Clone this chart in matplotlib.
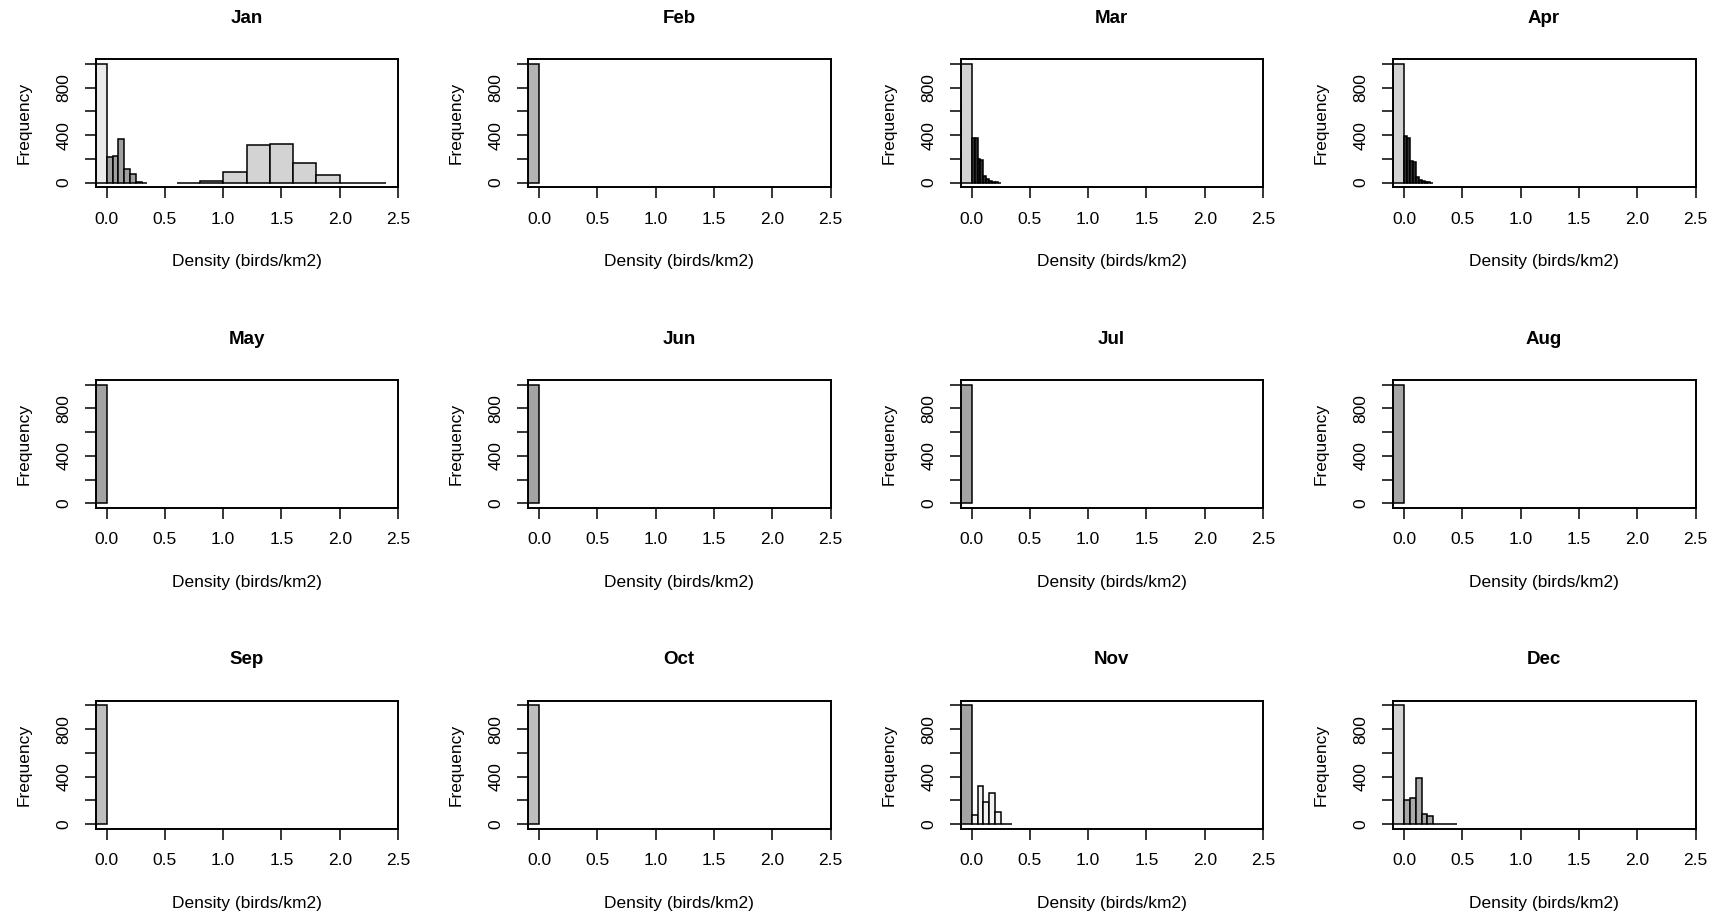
"""
monthly histograms of bird density (re-drawn from R base graphics)
"""
import matplotlib
matplotlib.use("Agg")
import matplotlib.pyplot as plt

plt.rcParams['font.family'] = ['Liberation Sans', 'DejaVu Sans']

months = ['Jan', 'Feb', 'Mar', 'Apr', 'May', 'Jun',
          'Jul', 'Aug', 'Sep', 'Oct', 'Nov', 'Dec']

# tall bar of zeros, one per month
zero_edges = [-0.1, 0.0]
zero_counts = [1000]
zero_colors = ['#EBEBEB', '#B3B3B3', '#D3D3D3', '#D3D3D3', '#A3A3A3', '#A3A3A3',
               '#A3A3A3', '#A6A6A6', '#BEBEBE', '#BEBEBE', '#A3A3A3', '#D3D3D3']

# extra layers: month -> list of (edges, counts, colour)
jan_low_edges = [0.0, 0.05, 0.1, 0.15, 0.2, 0.25, 0.3, 0.35]
jan_low_counts = [213, 225, 368, 112, 76, 5, 0]
jan_high_edges = [0.6, 0.8, 1.0, 1.2, 1.4, 1.6, 1.8, 2.0, 2.2, 2.4]
jan_high_counts = [0, 15, 90, 315, 323, 163, 65, 0, 0]

mar_edges = [0.0, 0.025, 0.05, 0.075, 0.1, 0.125, 0.15, 0.175, 0.2, 0.225, 0.25]
mar_counts = [380, 372, 197, 190, 56, 28, 12, 5, 2, 0]

apr_edges = [0.0, 0.025, 0.05, 0.075, 0.1, 0.125, 0.15, 0.175, 0.2, 0.225, 0.25]
apr_counts = [393, 380, 183, 175, 51, 22, 10, 4, 2, 0]

nov_edges = [0.0, 0.05, 0.1, 0.15, 0.2, 0.25, 0.3, 0.35]
nov_counts = [73, 323, 185, 264, 98, 0, 0]

dec_edges = [0.0, 0.05, 0.1, 0.15, 0.2, 0.25, 0.3, 0.35, 0.4, 0.45]
dec_counts = [205, 216, 388, 84, 65, 0, 0, 0, 0]

layers = {
    'Jan': [(jan_low_edges, jan_low_counts, '#A0A0A0'),
            (jan_high_edges, jan_high_counts, '#D3D3D3')],
    'Mar': [(mar_edges, mar_counts, '#303030')],
    'Apr': [(apr_edges, apr_counts, '#303030')],
    'Nov': [(nov_edges, nov_counts, '#F2F2F2')],
    'Dec': [(dec_edges, dec_counts, '#A9A9A9')],
}

x_ticks = [0.0, 0.5, 1.0, 1.5, 2.0, 2.5]
y_ticks = [0, 200, 400, 600, 800, 1000]
y_labels = ['0', '', '400', '', '800', '']

W, H = 1722, 916
fig = plt.figure(figsize=(W / 100, H / 100), dpi=100)


def draw_hist(ax, edges, counts, col):
    lefts = edges[:-1]
    widths = [b - a for a, b in zip(edges[:-1], edges[1:])]
    ax.bar(lefts, counts, width=widths, align='edge', color=col,
           edgecolor='black', linewidth=1.1)


for i, m in enumerate(months):
    r, c = divmod(i, 4)
    left = 95.5 + 432.5 * c
    top = 59.3 + 320.7 * r
    ax = fig.add_axes([left / W, 1 - (top + 128) / H, 302.5 / W, 128 / H])

    draw_hist(ax, zero_edges, zero_counts, zero_colors[i])
    for edges, counts, col in layers.get(m, []):
        draw_hist(ax, edges, counts, col)

    ax.set_xlim(-0.096, 2.496)
    ax.set_ylim(-40, 1040)
    ax.set_xticks(x_ticks)
    ax.set_xticklabels(['%.1f' % t for t in x_ticks], fontsize=12.5)
    ax.set_yticks(y_ticks)
    ax.set_yticklabels(y_labels, fontsize=12.5, rotation=90, va='center')
    ax.tick_params(length=8, width=1.1, pad=9.5)
    for s in ax.spines.values():
        s.set_linewidth(1.4)
    ax.set_xlabel('Density (birds/km2)', fontsize=12.5, labelpad=20)
    ax.set_ylabel('Frequency', fontsize=12.5, labelpad=18)

    fig.text((left + 151) / W, 1 - (18.5 + 320.7 * r) / H, m,
             ha='center', va='center', fontsize=13.5, fontweight='bold')

fig.savefig('out.png', dpi=100)
